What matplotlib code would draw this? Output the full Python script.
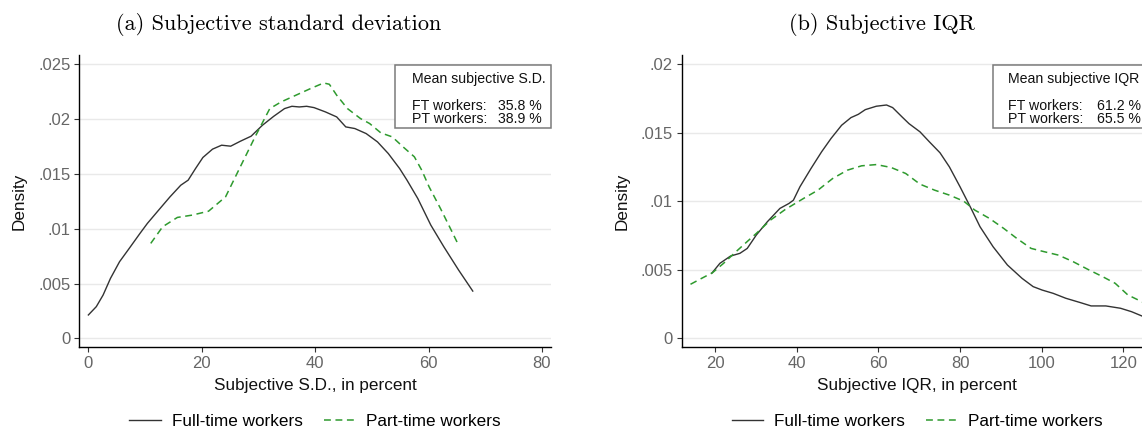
import numpy as np
import matplotlib
matplotlib.use("Agg")
import matplotlib.pyplot as plt
from matplotlib.patches import Rectangle

plt.rcParams['font.family'] = ['Liberation Sans', 'DejaVu Sans']

# panel (a): subjective S.D.
sd_ft_x = [0, 1.4, 2.6, 3.9, 5.5, 7.2, 9.1, 10.4, 12.4, 14.4, 16.3, 17.6, 18.9, 20.2, 21.9,
           23.5, 25.1, 26.8, 28.7, 30.7, 32.7, 34.6, 35.9, 37.2, 38.5, 39.8, 41.8, 43.8,
           45.4, 47.0, 49.0, 51.0, 52.9, 54.9, 56.2, 58.1, 60.4, 62.7, 65.3, 67.8]
sd_ft_y = [0.00213, 0.00289, 0.00395, 0.00547, 0.00699, 0.0082, 0.00957, 0.01048, 0.0117,
           0.01291, 0.01397, 0.01443, 0.01549, 0.0165, 0.01726, 0.01762, 0.01753, 0.01798,
           0.01844, 0.01944, 0.02026, 0.02096, 0.02117, 0.02111, 0.02117, 0.02105, 0.02066,
           0.0202, 0.01929, 0.01914, 0.01868, 0.01792, 0.01686, 0.01549, 0.01443, 0.01276,
           0.01033, 0.00835, 0.00623, 0.00431]
sd_pt_x = [11.0, 13.1, 15.7, 18.3, 21.2, 24.2, 26.8, 29.4, 32.0, 34.0, 36.6, 39.2, 41.5,
           42.5, 43.8, 45.7, 48.0, 49.6, 51.6, 53.6, 55.5, 57.5, 58.8, 60.1, 62.1, 64.0, 65.2]
sd_pt_y = [0.00866, 0.01018, 0.01103, 0.01124, 0.0116, 0.01291, 0.01565, 0.01838, 0.02096,
           0.02157, 0.02218, 0.02279, 0.0233, 0.02318, 0.02218, 0.02096, 0.02005, 0.0196,
           0.01874, 0.01838, 0.01747, 0.01656, 0.01534, 0.01382, 0.01185, 0.00987, 0.0086]

# panel (b): subjective IQR
iqr_ft_x = [19.2, 21.2, 23.8, 26.1, 27.9, 30.1, 32.8, 35.9, 38.1, 39.2, 40.8, 43.5, 46.1,
            48.4, 51.0, 53.3, 55.1, 56.8, 59.5, 62.0, 63.5, 65.8, 67.5, 70.2, 72.5, 75.1,
            77.4, 80.0, 82.7, 84.9, 88.1, 91.6, 95.2, 97.9, 100.1, 102.8, 105.9, 109.5,
            112.1, 115.7, 119.3, 122.0, 124.5, 126.5]
iqr_ft_y = [0.00474, 0.00547, 0.006, 0.0062, 0.00656, 0.00753, 0.0085, 0.00948, 0.00984,
            0.01008, 0.01106, 0.01239, 0.01361, 0.01458, 0.01555, 0.01611, 0.01635, 0.01669,
            0.01694, 0.01703, 0.01684, 0.01616, 0.01567, 0.01507, 0.01434, 0.01354, 0.01251,
            0.01106, 0.00948, 0.00814, 0.00668, 0.00535, 0.00437, 0.00377, 0.00352, 0.00328,
            0.00292, 0.0026, 0.00236, 0.00236, 0.00219, 0.00194, 0.00163, 0.0014]
iqr_pt_x = [14.0, 16.7, 19.4, 22.1, 24.7, 27.4, 30.1, 33.6, 37.2, 41.7, 45.2, 48.8, 52.4,
            55.9, 59.5, 63.1, 66.7, 70.2, 73.8, 77.4, 80.9, 83.6, 87.2, 90.7, 93.9, 97.4,
            100.6, 104.1, 107.7, 111.3, 114.9, 118.0, 121.1, 124.5, 126.5]
iqr_pt_y = [0.00394, 0.00437, 0.00479, 0.00547, 0.0062, 0.00693, 0.00765, 0.00863, 0.0094,
            0.01021, 0.01081, 0.01166, 0.01227, 0.01259, 0.01268, 0.01247, 0.01203, 0.01125,
            0.01081, 0.01045, 0.01001, 0.00936, 0.00875, 0.00802, 0.00729, 0.00656, 0.00632,
            0.00607, 0.00559, 0.00503, 0.0045, 0.00401, 0.00316, 0.00267, 0.0024]

sd_yticks = [0, 0.005, 0.01, 0.015, 0.02, 0.025]
sd_ylabels = ["0", ".005", ".01", ".015", ".02", ".025"]
iqr_yticks = [0, 0.005, 0.01, 0.015, 0.02]
iqr_ylabels = ["0", ".005", ".01", ".015", ".02"]
sd_xticks = [0, 20, 40, 60, 80]
iqr_xticks = [20, 40, 60, 80, 100, 120]

W, H = 1142, 430
fig = plt.figure(figsize=(W / 100, H / 100), dpi=100)


def fx(p):
    return p / W


def fy(p):
    return 1 - p / H


ax_w = 471.7
ax_top, ax_bot = 55, 347.3
ax1 = fig.add_axes([fx(79.3), fy(ax_bot), ax_w / W, (ax_bot - ax_top) / H])
ax2 = fig.add_axes([fx(681.5), fy(ax_bot), ax_w / W, (ax_bot - ax_top) / H])

black = "#333333"
green = "#2e9a2e"

ax1.plot(sd_ft_x, sd_ft_y, color=black, lw=1.0, label="Full-time workers")
ax1.plot(sd_pt_x, sd_pt_y, color=green, lw=1.1, dashes=(4.5, 3), label="Part-time workers")
ax2.plot(iqr_ft_x, iqr_ft_y, color=black, lw=1.0, label="Full-time workers")
ax2.plot(iqr_pt_x, iqr_pt_y, color=green, lw=1.1, dashes=(4.5, 3), label="Part-time workers")

ax1.set_xlim(-1.6, 81.6)
ax1.set_ylim(-0.00082, 0.02585)
ax2.set_xlim(11.8, 127.3)
ax2.set_ylim(-0.00066, 0.02068)

for ax, xt, yt, yl, xlab in [(ax1, sd_xticks, sd_yticks, sd_ylabels, "Subjective S.D., in percent"),
                             (ax2, iqr_xticks, iqr_yticks, iqr_ylabels, "Subjective IQR, in percent")]:
    ax.set_xticks(xt)
    ax.set_yticks(yt)
    ax.set_yticklabels(yl)
    for s in ["top", "right"]:
        ax.spines[s].set_visible(False)
    for s in ["left", "bottom"]:
        ax.spines[s].set_linewidth(1.0)
        ax.spines[s].set_color("black")
    ax.tick_params(axis="both", length=3.6, width=0.8, color="#333333",
                   labelsize=12, labelcolor="#666666")
    ax.tick_params(axis="y", pad=2.8)
    ax.tick_params(axis="x", pad=2.5)
    ax.yaxis.grid(True, color="#e9e9e9", lw=1.0)
    ax.set_axisbelow(True)
    ax.set_xlabel(xlab, fontsize=12.3, color="#111111", labelpad=5)
    ax.set_ylabel("Density", fontsize=12.3, color="#111111", labelpad=8)
    ax.legend(loc="center", ncol=2, frameon=False, fontsize=12.3,
              handlelength=1.85, handletextpad=0.65, columnspacing=1.2,
              bbox_to_anchor=(0.5, -0.255), borderaxespad=0)

# panel titles
fig.text(fx(279), fy(25), "(a) Subjective standard deviation", family="cmr10",
         fontsize=16, ha="center", va="center")
fig.text(fx(881.7), fy(25), "(b) Subjective IQR", family="cmr10",
         fontsize=16, ha="center", va="center")

# mean boxes
boxes = [
    (395, 156, 411.7, 498.3, "Mean subjective S.D.", "35.8 %", "38.9 %"),
    (993.3, 160, 1008.3, 1097, "Mean subjective IQR", "61.2 %", "65.5 %"),
]
for bx, bw, tx, vx, head, ft, pt in boxes:
    fig.add_artist(Rectangle((fx(bx), fy(128)), bw / W, (128 - 64.7) / H,
                             transform=fig.transFigure, fill=True, facecolor="white",
                             edgecolor="#7a7a7a", lw=1.1))
    fig.text(fx(tx), fy(79.3), head, fontsize=10.2, va="center", color="#111111")
    fig.text(fx(tx), fy(106.5), "FT workers:", fontsize=10.2, va="center", color="#111111")
    fig.text(fx(tx), fy(119), "PT workers:", fontsize=10.2, va="center", color="#111111")
    fig.text(fx(vx), fy(106.5), ft, fontsize=10.2, va="center", color="#111111")
    fig.text(fx(vx), fy(119), pt, fontsize=10.2, va="center", color="#111111")

fig.savefig("out.png", dpi=100)
